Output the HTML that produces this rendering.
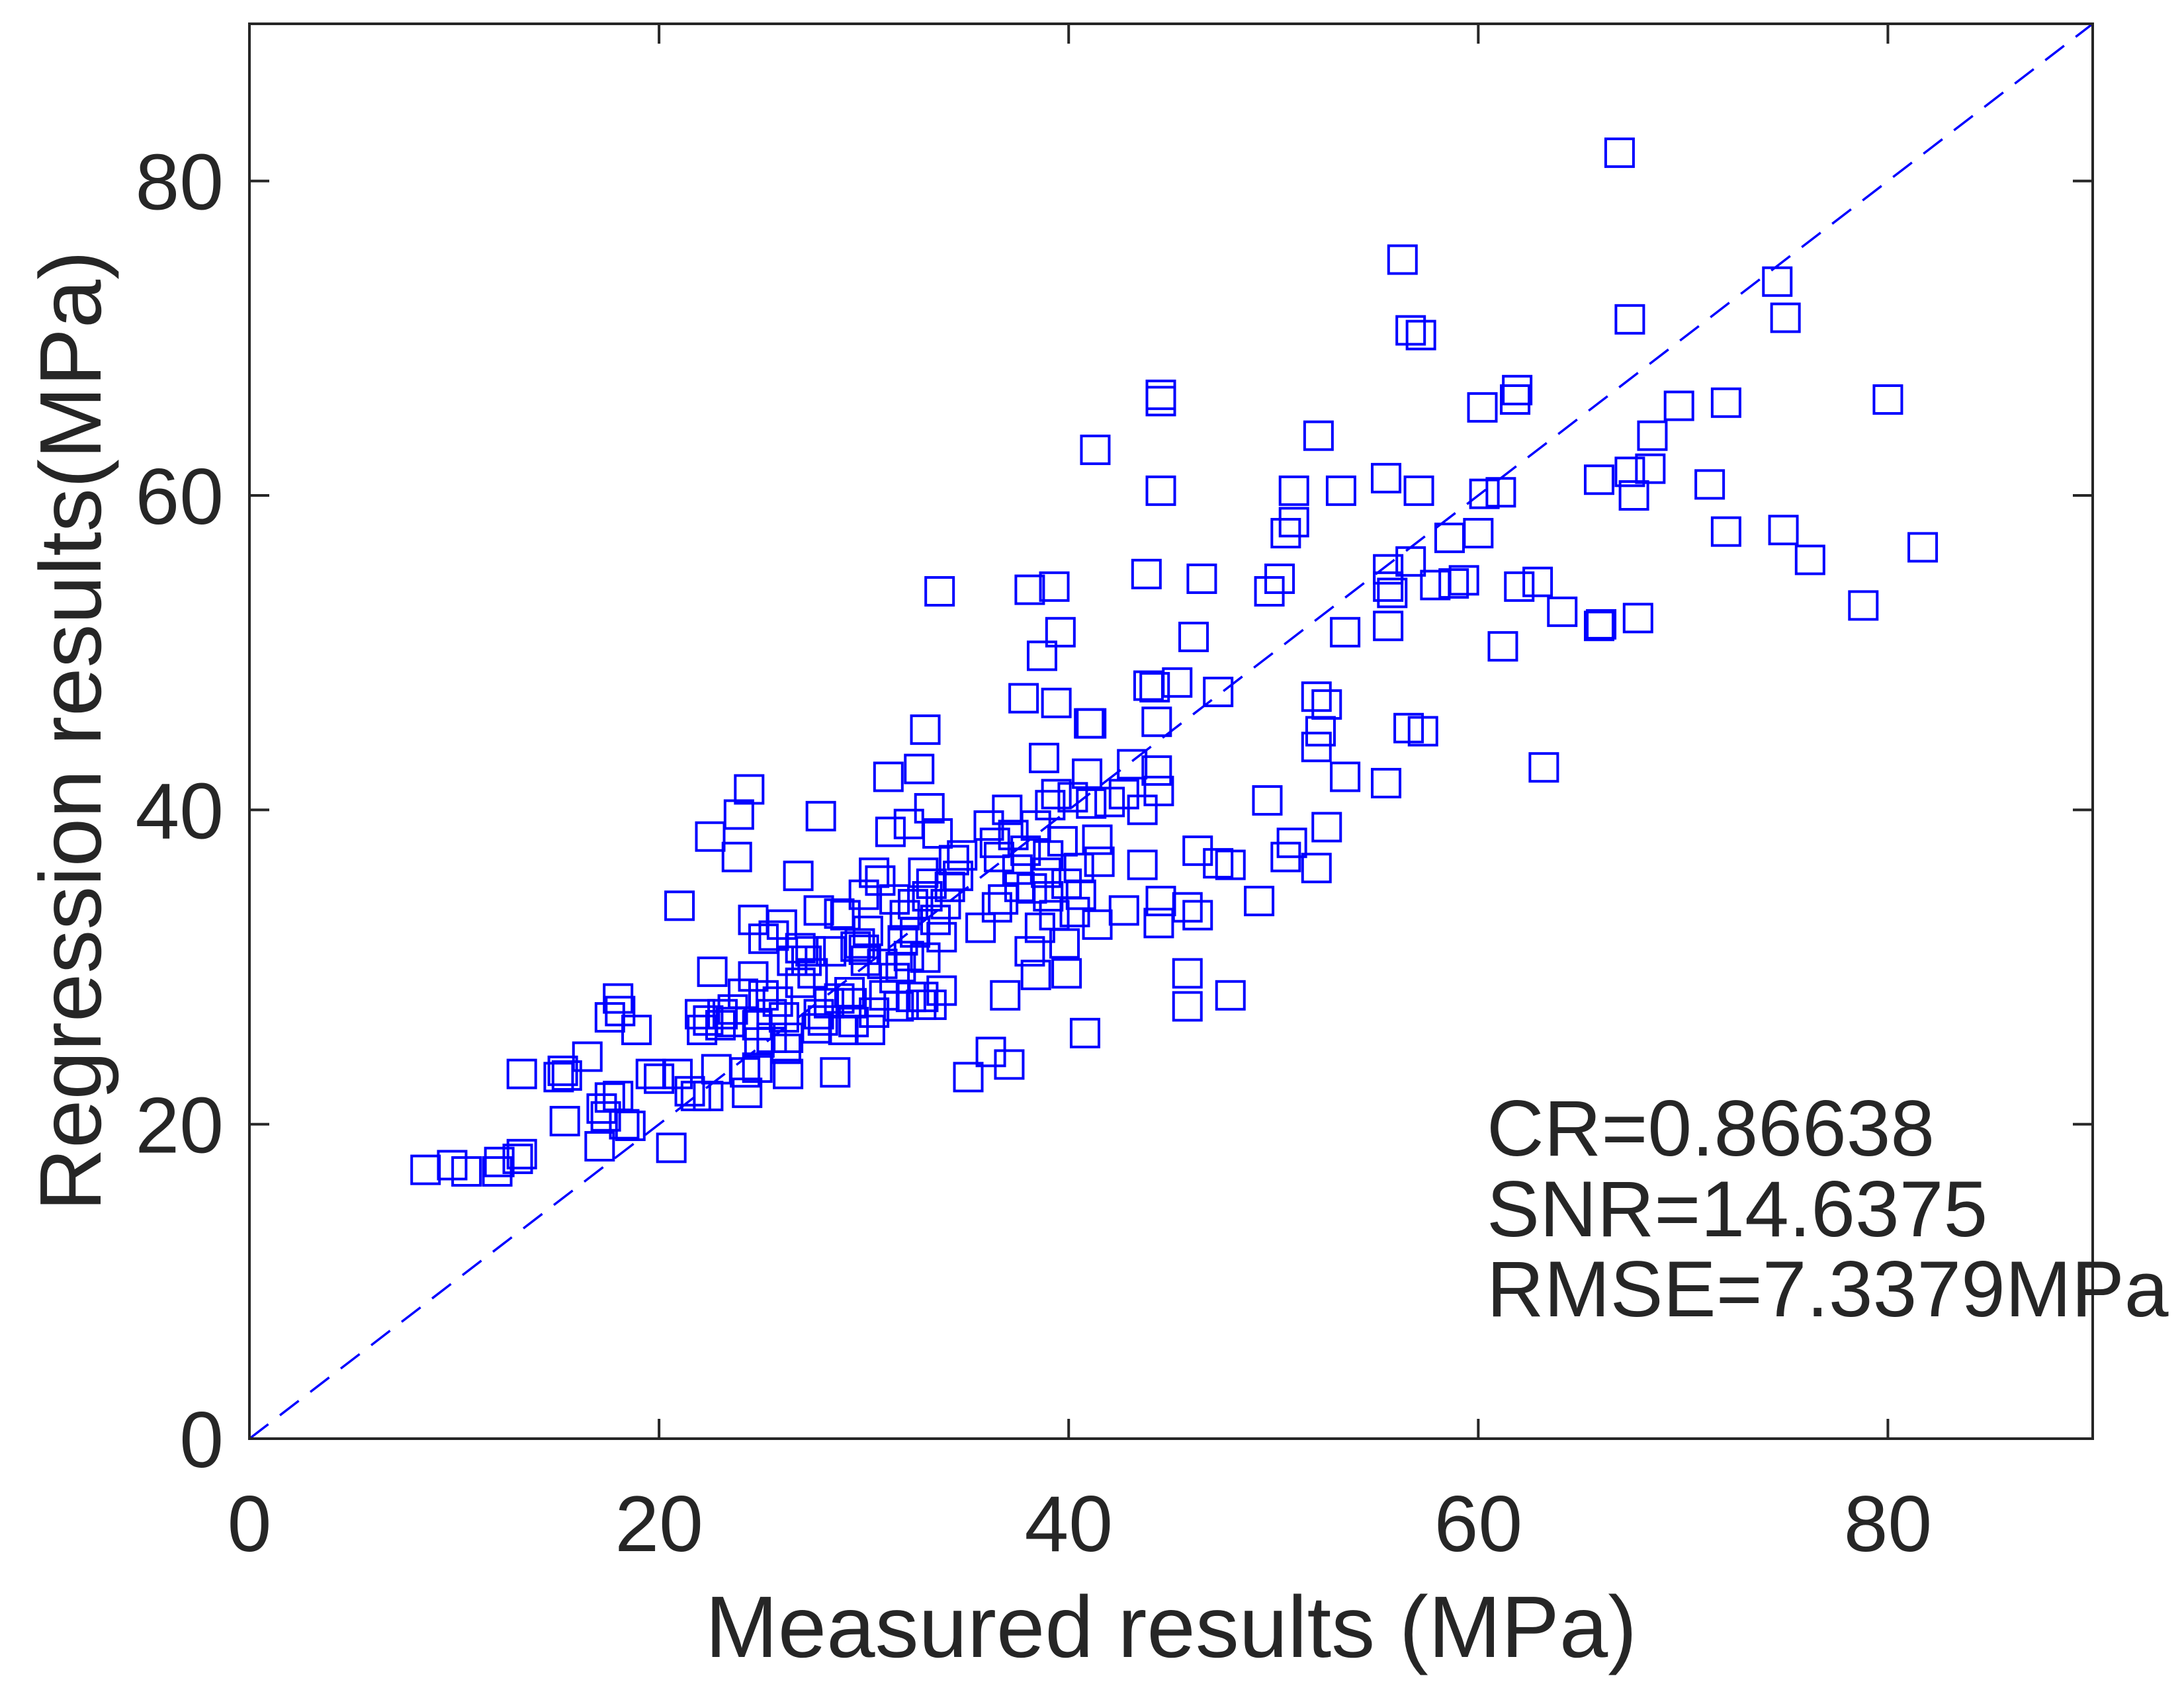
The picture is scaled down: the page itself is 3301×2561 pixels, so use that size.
<!DOCTYPE html>
<html><head><meta charset="utf-8"><style>
html,body{margin:0;padding:0;background:#fff;}
svg{display:block;}
text{font-family:"Liberation Sans",Arial,sans-serif;fill:#262626;}
</style></head><body>
<svg id="chart" width="3301" height="2561" viewBox="0 0 3301 2561" xmlns="http://www.w3.org/2000/svg">
<rect x="0" y="0" width="3301" height="2561" fill="#fff"/>
<g id="plot"></g>
<text x="1770" y="2505" font-size="132" text-anchor="middle">Measured results (MPa)</text>
<text transform="translate(152,1105) rotate(-90)" font-size="132" text-anchor="middle">Regression results(MPa)</text>
<text x="2247" y="1747" font-size="120">CR=0.86638</text>
<text x="2247" y="1869" font-size="120">SNR=14.6375</text>
<text x="2247" y="1990" font-size="120">RMSE=7.3379MPa</text>
</svg>
<script>
const xTicks=[0,20,40,60,80];
const yTicks=[0,20,40,60,80];
const measured=[66.9,56.3,56.7,57.2,67.4,74.6,75,80,69.8,72.1,61.8,61.9,44.5,44.5,41.3,52.2,60.2,68.5,67.4,68.4,65.9,71.3,55.5,57.1,53.3,51.0,44.5,60.3,61.1,67.6,50.6,51.0,58.6,60.0,72.1,74.9,76.2,81.7,78.8,66.0,65.9,67.8,64.1,61.2,62.0,62.9,59.3,58.8,57.9,56.7,55.6,55.6,55.8,55.6,53.5,50.3,49.8,46.5,43.8,33.7,38.1,39.3,39.6,38.7,46.1,45.3,43.9,44.2,47.3,39.4,37.8,41.0,44.3,52.1,52.6,52.3,52.1,56.6,57.3,33.0,38.8,53.5,55.5,63.2,49.7,50.9,50.6,52.6,52.1,49.3,47.9,47.3,46.3,45.8,46.3,44.5,44.4,43.6,43.6,44.4,44.3,43.1,45.8,45.8,47.9,39.9,40.8,36.9,37.1,36.2,35.1,41.5,42.7,41.4,40.3,39.0,38.4,38.1,
8.6,9.9,10.6,12.1,12.2,13.1,13.3,13.3,15.1,15.3,15.5,15.4,16.5,17.1,17.2,17.4,17.6,18.0,18.0,18.1,17.6,18.3,18.6,18.9,19.6,20.0,20.6,20.9,21.0,21.5,21.8,22.0,22.1,22.4,22.6,22.5,22.8,22.4,23.1,23.6,23.8,23.9,24.1,24.4,24.6,24.6,24.3,24.2,24.8,24.9,25.1,25.1,25.6,25.8,26.1,26.2,26.0,26.3,26.9,26.9,26.8,27.4,27.5,27.9,27.7,27.8,28.3,28.6,28.8,29.1,29.4,29.5,29.8,30.0,30.1,30.3,30.2,30.5,30.8,31.0,31.3,31.2,31.5,31.7,31.9,32.0,32.2,32.2,32.5,32.7,32.9,32.9,33.1,33.2,33.3,33.3,33.6,33.8,33.8,34.2,34.4,34.6,34.8,35.7,36.1,36.4,36.6,36.8,37.0,37.3,37.5,37.9,38.2,38.4,38.6,39.0,39.1,39.4,39.7,39.9,40.2,40.5,40.9,41.1,41.1,41.4,42.0,42.7,24.8,25.5,26.5,27.2,28.0,28.8,29.6,30.9,31.8,32.3,32.8,33.0,32.4,33.5,34.0,23.5,23.0,25.5,26.3,27.8,29.0,30.5,31.5,28.4,30.0,29.3,36.5,37.6,39.3,39.8,40.6,38.9];
const regressed=[81.8,75,70.5,70.2,71.2,73.6,71.3,66.1,65.7,65.9,66.1,66.7,66.4,66.0,62.9,63.8,65.6,63.8,61.5,61.7,61.0,60.7,61.1,60.3,60.3,60.3,60.3,60.1,60.2,60.0,57.6,58.3,57.3,57.6,57.7,57.8,55.9,56.7,53.0,51.8,51.7,52.2,52.6,50.4,54.2,54.5,54.6,54.4,54.3,55.8,55.3,54.2,53.8,51.7,51.3,54.7,53.9,54.7,55.0,53.9,54.0,54.2,51.3,49.8,51.0,48.1,47.9,47.8,47.5,46.8,47.1,45.5,45.6,47.2,46.7,45.0,44.0,45.2,45.0,45.1,43.3,42.1,41.7,42.7,40.6,37.9,37.0,38.9,36.3,34.2,36.5,36.6,37.4,33.8,33.3,34.2,32.8,36.5,40.0,41.2,42.5,42.9,29.6,27.5,28.2,29.6,25.8,28.2,23.8,24.6,23.0,36.7,33.6,32.7,33.5,34.5,29.5,31.0,
17.1,17.4,17.0,17.0,17.6,17.8,18.1,23.2,23.0,23.4,23.1,20.2,24.3,18.6,21.0,20.5,21.7,21.8,28.0,27.2,26.8,20.0,19.9,26.0,23.2,22.9,18.5,23.2,33.9,22.1,21.8,27.0,26.0,26.6,29.7,38.3,23.5,21.8,27.0,27.3,37.0,39.7,28.3,41.3,33.0,29.4,22.0,23.3,23.6,25.2,28.2,31.8,32.0,27.8,26.8,24.8,32.7,23.2,29.0,31.2,35.8,31.0,29.6,39.6,26.1,33.6,27.7,23.3,33.4,33.3,27.7,26.5,31.5,31.1,30.4,26.0,32.3,36.0,35.5,28.2,38.6,42.1,34.3,27.5,31.7,33.3,39.1,30.7,32.2,42.6,36.0,28.1,34.5,40.1,27.6,35.3,38.5,28.5,31.9,35.1,36.8,35.8,37.1,32.5,39.0,37.9,37.0,34.3,40.0,38.4,36.2,37.4,35.0,39.0,32.5,37.1,40.3,41.0,38.0,35.3,40.8,36.3,42.3,45.5,40.4,38.1,40.5,41.0,26.3,27.0,30.4,30.4,26.6,28.0,31.3,30.2,30.0,28.1,27.6,30.6,34.0,33.0,34.0,26.5,26.3,25.5,25.5,27.0,26.0,27.1,29.3,31.0,34.6,28.4,33.8,35.1,33.3,31.5,34.6,36.0];

const L=377,R=3163,T=36,B=2175,XMAX=90,YMAX=90;
const sx=v=>L+(R-L)*v/XMAX;
const sy=v=>B-(B-T)*v/YMAX;
const NS="http://www.w3.org/2000/svg";
const g=document.getElementById('plot');
function mk(tag,attrs){const e=document.createElementNS(NS,tag);for(const k in attrs)e.setAttribute(k,attrs[k]);g.appendChild(e);return e;}

const ln=mk('line',{x1:sx(0),y1:sy(0),x2:sx(XMAX),y2:sy(YMAX),stroke:'#0000ff','stroke-width':3.5,'stroke-dasharray':'36 22'});



const S=42;
for(let i=0;i<measured.length;i++){
  const r=mk('rect',{x:sx(measured[i])-S/2,y:sy(regressed[i])-S/2,width:S,height:S,fill:'none',stroke:'#0000ff','stroke-width':4});
  
  
}

const fr=mk('rect',{x:L,y:T,width:R-L,height:B-T,fill:'none',stroke:'#262626','stroke-width':4});



const TL=30;
xTicks.forEach(v=>{
  const x=sx(v);
  const t1=mk('line',{x1:x,y1:B,x2:x,y2:B-TL,stroke:'#262626','stroke-width':4});
  
  
  const t2=mk('line',{x1:x,y1:T,x2:x,y2:T+TL,stroke:'#262626','stroke-width':4});
  
  
  const tx=mk('text',{x:x,y:2345,'font-size':120,'text-anchor':'middle'});
  tx.textContent=v;
  
  
});
yTicks.forEach(v=>{
  const y=sy(v);
  const t1=mk('line',{x1:L,y1:y,x2:L+TL,y2:y,stroke:'#262626','stroke-width':4});
  
  
  const t2=mk('line',{x1:R,y1:y,x2:R-TL,y2:y,stroke:'#262626','stroke-width':4});
  
  
  const tx=mk('text',{x:338,y:y+43,'font-size':120,'text-anchor':'end'});
  tx.textContent=v;
  
  
});
</script>
</body></html>
